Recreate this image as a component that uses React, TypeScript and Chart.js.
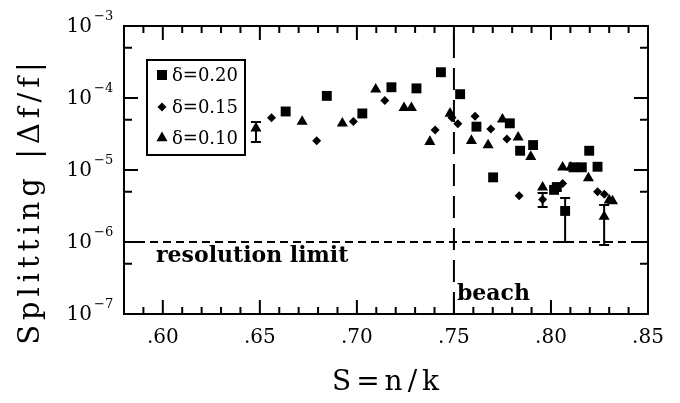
import React, { useEffect, useRef } from "react";
import { Chart, registerables } from "chart.js";

Chart.register(...registerables);

const FONT = "'DejaVu Serif', 'Liberation Serif', serif";

// Axis ticks / labels
const xMin = 0.58;
const xMax = 0.85;
const xTickValues = [0.6, 0.65, 0.7, 0.75, 0.8, 0.85];
const xTickLabels = [".60", ".65", ".70", ".75", ".80", ".85"];
const yExponents = [-3, -4, -5, -6, -7];
const xTitle = "S=n/k";
const yTitle = "Splitting |\u0394f/f|";

// delta = 0.20 (squares)
const sqX = [0.6633, 0.6845, 0.7028, 0.7178, 0.7307, 0.7433, 0.7532, 0.7616, 0.7702, 0.7788, 0.7841, 0.7908, 0.8016, 0.803, 0.8073, 0.8116, 0.8159, 0.8197, 0.824];
const sqY = [6.5e-5, 1.07e-4, 6.1e-5, 1.41e-4, 1.36e-4, 2.28e-4, 1.13e-4, 4.0e-5, 7.9e-6, 4.45e-5, 1.85e-5, 2.22e-5, 5.3e-6, 5.8e-6, 2.7e-6, 1.09e-5, 1.09e-5, 1.85e-5, 1.11e-5];

// delta = 0.15 (diamonds)
const dmX = [0.656, 0.6793, 0.6982, 0.7144, 0.7403, 0.749, 0.752, 0.7609, 0.769, 0.7773, 0.7836, 0.7957, 0.806, 0.824, 0.8275];
const dmY = [5.3e-5, 2.55e-5, 4.7e-5, 9.2e-5, 3.6e-5, 5.3e-5, 4.4e-5, 5.6e-5, 3.7e-5, 2.7e-5, 4.4e-6, 3.9e-6, 6.5e-6, 5.0e-6, 4.6e-6];

// delta = 0.10 (triangles)
const trX = [0.648, 0.6718, 0.6925, 0.7097, 0.7243, 0.7281, 0.7376, 0.748, 0.759, 0.7676, 0.775, 0.7831, 0.7896, 0.7957, 0.806, 0.8102, 0.8193, 0.83, 0.8317, 0.8274];
const trY = [3.8e-5, 4.7e-5, 4.45e-5, 1.32e-4, 7.3e-5, 7.3e-5, 2.47e-5, 6.1e-5, 2.55e-5, 2.22e-5, 5.06e-5, 2.84e-5, 1.53e-5, 5.75e-6, 1.09e-5, 1.09e-5, 7.7e-6, 3.8e-6, 3.7e-6, 2.25e-6];

// error bars
const errX = [0.648, 0.7957, 0.8073, 0.8274];
const errLo = [2.45e-5, 3.06e-6, 1.0e-6, 9.1e-7];
const errHi = [4.65e-5, 4.8e-6, 4.1e-6, 3.27e-6];

const seriesLabels = ["\u03b4=0.20", "\u03b4=0.15", "\u03b4=0.10"];
const resolutionLimit = 1e-6;
const beachS = 0.75;

const toPts = (xs: number[], ys: number[]) => xs.map((x, i) => ({ x, y: ys[i] }));

function drawMarker(ctx: CanvasRenderingContext2D, kind: string, x: number, y: number) {
  ctx.beginPath();
  if (kind === "rect") {
    const s = 5;
    ctx.rect(x - s, y - s, 2 * s, 2 * s);
  } else if (kind === "rectRot") {
    const r = 4.5;
    ctx.moveTo(x, y - r);
    ctx.lineTo(x + r, y);
    ctx.lineTo(x, y + r);
    ctx.lineTo(x - r, y);
    ctx.closePath();
  } else {
    const r = 6.4;
    ctx.moveTo(x, y - r);
    ctx.lineTo(x + r * 0.866, y + r * 0.5);
    ctx.lineTo(x - r * 0.866, y + r * 0.5);
    ctx.closePath();
  }
  ctx.fill();
}

const decoPlugin = {
  id: "deco",
  afterDatasetsDraw(chart: any) {
    const { ctx, scales } = chart;
    const xs = scales.x;
    const ys = scales.y;
    ctx.save();
    ctx.strokeStyle = "#000";
    ctx.lineWidth = 2;
    errX.forEach((x, i) => {
      const px = xs.getPixelForValue(x);
      const pl = ys.getPixelForValue(errLo[i]);
      const ph = ys.getPixelForValue(errHi[i]);
      ctx.beginPath();
      ctx.moveTo(px, pl);
      ctx.lineTo(px, ph);
      ctx.moveTo(px - 5, pl);
      ctx.lineTo(px + 5, pl);
      ctx.moveTo(px - 5, ph);
      ctx.lineTo(px + 5, ph);
      ctx.stroke();
    });
    ctx.restore();
  },
  afterDraw(chart: any) {
    const { ctx, chartArea: a, scales } = chart;
    const xs = scales.x;
    const ys = scales.y;
    ctx.save();
    ctx.strokeStyle = "#000";
    ctx.fillStyle = "#000";
    ctx.lineWidth = 2;
    ctx.strokeRect(a.left, a.top, a.right - a.left, a.bottom - a.top);

    // x ticks (inward, top and bottom)
    ctx.lineWidth = 2;
    for (let k = 0; k <= Math.round((xMax - xMin) / 0.01); k++) {
      const v = Math.round((xMin + k * 0.01) * 100) / 100;
      const major = Math.abs(v * 20 - Math.round(v * 20)) < 1e-6;
      const len = major ? 14 : 7;
      const px = xs.getPixelForValue(v);
      ctx.beginPath();
      ctx.moveTo(px, a.bottom);
      ctx.lineTo(px, a.bottom - len);
      ctx.moveTo(px, a.top);
      ctx.lineTo(px, a.top + len);
      ctx.stroke();
    }
    // y ticks
    const yTicks: { v: number; major: boolean }[] = [];
    yExponents.forEach((e) => {
      yTicks.push({ v: Math.pow(10, e), major: true });
      if (e < -3) yTicks.push({ v: 5 * Math.pow(10, e), major: false });
    });
    yTicks.forEach((t) => {
      const py = ys.getPixelForValue(t.v);
      const len = t.major ? 14 : 8;
      ctx.beginPath();
      ctx.moveTo(a.left, py);
      ctx.lineTo(a.left + len, py);
      ctx.moveTo(a.right, py);
      ctx.lineTo(a.right - len, py);
      ctx.stroke();
    });

    // y tick labels 10^e
    yExponents.forEach((e) => {
      const py = ys.getPixelForValue(Math.pow(10, e));
      ctx.font = `20px ${FONT}`;
      ctx.textAlign = "right";
      ctx.textBaseline = "middle";
      ctx.fillText("10", 92, py + 1);
      ctx.font = `13px ${FONT}`;
      ctx.textAlign = "left";
      ctx.textBaseline = "alphabetic";
      ctx.fillText("\u2212" + String(-e), 94, py - 6);
    });

    // annotations
    ctx.font = `bold 22px ${FONT}`;
    ctx.textAlign = "left";
    ctx.textBaseline = "middle";
    ctx.fillText("resolution limit", xs.getPixelForValue(0.5965), ys.getPixelForValue(resolutionLimit) + 14);
    ctx.fillText("beach", xs.getPixelForValue(beachS) + 3, ys.getPixelForValue(1.9e-7));

    // legend
    const lx = 147, ly = 60, lw = 98, lh = 95;
    ctx.lineWidth = 2;
    ctx.strokeRect(lx, ly, lw, lh);
    const kinds = ["rect", "rectRot", "triangle"];
    const rows = [75, 107, 138];
    ctx.font = `18px ${FONT}`;
    ctx.textBaseline = "middle";
    seriesLabels.forEach((lab, i) => {
      drawMarker(ctx, kinds[i], 162, rows[i]);
      ctx.fillText(lab, 172, rows[i] + 1);
    });

    // axis titles
    ctx.font = `28px ${FONT}`;
    ctx.textAlign = "center";
    ctx.textBaseline = "middle";
    (ctx as any).letterSpacing = "5px";
    ctx.fillText(xTitle, (a.left + a.right) / 2 + 2, 383);
    ctx.translate(31, 201);
    ctx.rotate(-Math.PI / 2);
    ctx.font = `29px ${FONT}`;
    (ctx as any).letterSpacing = "5px";
    ctx.fillText(yTitle, 0, 0);
    ctx.restore();
  },
};

export default function App() {
  const ref = useRef<HTMLCanvasElement | null>(null);
  useEffect(() => {
    document.body.style.margin = "0";
    const canvas = ref.current;
    if (!canvas) return;
    const chart = new Chart(canvas, {
      type: "scatter",
      data: {
        datasets: [
          {
            label: seriesLabels[0],
            data: toPts(sqX, sqY),
            pointStyle: "rect",
            pointRadius: 7,
            backgroundColor: "#000",
            borderColor: "#000",
            borderWidth: 0,
          },
          {
            label: seriesLabels[1],
            data: toPts(dmX, dmY),
            pointStyle: "rectRot",
            pointRadius: 4.5,
            backgroundColor: "#000",
            borderColor: "#000",
            borderWidth: 0,
          },
          {
            label: seriesLabels[2],
            data: toPts(trX, trY),
            pointStyle: "triangle",
            pointRadius: 6.4,
            backgroundColor: "#000",
            borderColor: "#000",
            borderWidth: 0,
          },
          {
            label: "resolution limit",
            data: [
              { x: xMin, y: resolutionLimit },
              { x: xMax, y: resolutionLimit },
            ],
            showLine: true,
            pointRadius: 0,
            borderColor: "#000",
            borderWidth: 2,
            borderDash: [8, 5],
          },
          {
            label: "beach",
            data: [
              { x: beachS, y: 1e-7 },
              { x: beachS, y: 1e-3 },
            ],
            showLine: true,
            pointRadius: 0,
            borderColor: "#000",
            borderWidth: 2,
            borderDash: [22, 10],
          },
        ],
      },
      options: {
        animation: false,
        responsive: true,
        maintainAspectRatio: false,
        layout: { padding: { top: 26, right: 32, left: 0, bottom: 0 } },
        plugins: { legend: { display: false }, tooltip: { enabled: false } },
        scales: {
          x: {
            type: "linear",
            min: xMin,
            max: xMax,
            grid: { display: false },
            border: { display: false },
            afterBuildTicks: (s: any) => {
              s.ticks = xTickValues.map((v) => ({ value: v }));
            },
            afterFit: (s: any) => {
              s.height = 89;
            },
            ticks: {
              color: "#000",
              font: { family: FONT, size: 20 },
              padding: 4,
              maxRotation: 0,
              autoSkip: false,
              callback: (v: any) => {
                const i = xTickValues.findIndex((t) => Math.abs(t - Number(v)) < 1e-6);
                return i >= 0 ? xTickLabels[i] : "";
              },
            },
          },
          y: {
            type: "logarithmic",
            min: 1e-7,
            max: 1e-3,
            grid: { display: false },
            border: { display: false },
            ticks: { display: false },
            afterFit: (s: any) => {
              s.width = 124;
            },
          },
        },
      },
      plugins: [decoPlugin],
    } as any);
    return () => chart.destroy();
  }, []);
  return (
    <div style={{ position: "relative", width: 680, height: 403 }}>
      <canvas ref={ref} />
    </div>
  );
}
